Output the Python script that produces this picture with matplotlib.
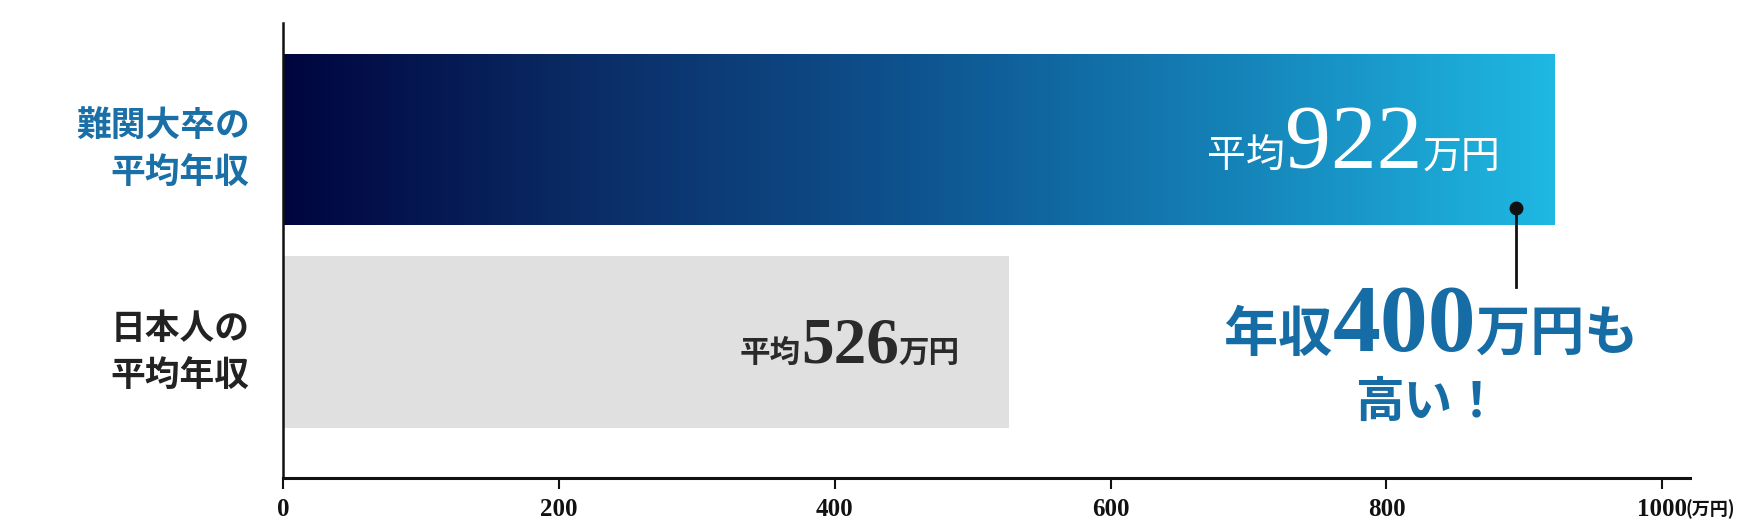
import matplotlib
matplotlib.use("Agg")
import matplotlib.pyplot as plt
import matplotlib.transforms as mtransforms
from matplotlib.colors import LinearSegmentedColormap
import numpy as np

# data
categories = ["日本人の\n平均年収", "難関大卒の\n平均年収"]
values = [526, 922]
label_colors = ["#222222", "#1a6fa6"]
xticks = [0, 200, 400, 600, 800, 1000]
diff_text = "400"
unit = "万円"

CJK = "Noto Sans CJK JP"
SERIF = "Liberation Serif"

fig = plt.figure(figsize=(17.54, 5.30), dpi=100)
ax = fig.add_axes([0.1613, 0.098, 0.8022, 0.8595])

bar_h = 0.845
ypos = np.arange(len(values))
bars = ax.barh(ypos, values, height=bar_h, color=["#e0e0e0", "none"], edgecolor="none", zorder=2)

# gradient fill for the top bar
grad = LinearSegmentedColormap.from_list("g", ["#00053f", "#0b2e68", "#0e5490", "#1583b8", "#1fb8e2"])
top = bars[1]
img = ax.imshow(np.linspace(0, 1, 256).reshape(1, -1), cmap=grad, aspect="auto",
                extent=[0, values[1], 1 - bar_h / 2, 1 + bar_h / 2], zorder=2)
img.set_clip_path(top)

ax.set_xlim(0, 1020)
ax.set_ylim(-0.672, 1.578)

for s in ["top", "right"]:
    ax.spines[s].set_visible(False)
ax.spines["left"].set_linewidth(1.8)
ax.spines["bottom"].set_linewidth(2.2)
ax.spines["left"].set_color("#111111")
ax.spines["bottom"].set_color("#111111")

ax.set_xticks(xticks)
ax.set_xticklabels([str(t) for t in xticks], fontfamily=SERIF, fontweight="bold",
                   fontsize=18, color="#111111")
ax.tick_params(axis="x", direction="out", length=8, width=1.5, pad=6, color="#111111")

ax.set_yticks(ypos)
ax.set_yticklabels(categories, fontfamily=CJK, fontweight="bold", fontsize=25,
                   multialignment="right", linespacing=1.47)
for lab, c in zip(ax.get_yticklabels(), label_colors):
    lab.set_color(c)
ax.tick_params(axis="y", length=0, pad=24)

ax.text(1000, 0, "(万円)", transform=mtransforms.offset_copy(ax.get_xaxis_transform(), fig=fig, x=23, y=-31, units="dots"),
        ha="left", va="center", fontfamily=CJK, fontweight="bold", fontsize=13, color="#111111")

renderer = fig.canvas.get_renderer()


def rich(x, y, parts, ha="right"):
    widths = []
    for s, kw in parts:
        t = fig.text(0, 0, s, **kw)
        widths.append(t.get_window_extent(renderer).width)
        t.remove()
    total = sum(widths)
    off = {"right": -total, "center": -total / 2, "left": 0}[ha]
    for (s, kw), w in zip(parts, widths):
        tr = mtransforms.offset_copy(ax.transData, fig=fig, x=off, y=0, units="dots")
        ax.text(x, y, s, transform=tr, ha="left", va="baseline", zorder=5, **kw)
        off += w


# value labels inside bars
rich(values[1] - 39.5, 0.859, [
    ("平均", dict(fontfamily=CJK, fontsize=28, color="white")),
    (str(values[1]), dict(fontfamily=SERIF, fontsize=66, color="white")),
    (unit, dict(fontfamily=CJK, fontsize=28, color="white")),
])
rich(values[0] - 35.4, -0.099, [
    ("平均", dict(fontfamily=CJK, fontsize=22, fontweight="bold", color="#2a2a2a")),
    (str(values[0]), dict(fontfamily=SERIF, fontsize=47, fontweight="bold", color="#2a2a2a")),
    (unit, dict(fontfamily=CJK, fontsize=22, fontweight="bold", color="#2a2a2a")),
])

# callout
blue = "#166ca4"
rich(832.6, -0.044, [
    ("年収", dict(fontfamily=CJK, fontsize=39, fontweight="bold", color=blue)),
    (diff_text, dict(fontfamily=SERIF, fontsize=69, fontweight="bold", color=blue)),
    (unit + "も", dict(fontfamily=CJK, fontsize=39, fontweight="bold", color=blue)),
], ha="center")
rich(830, -0.37, [
    ("高い！", dict(fontfamily=CJK, fontsize=35, fontweight="bold", color=blue)),
], ha="center")

ax.plot([894, 894], [0.272, 0.662], color="#111111", lw=2, zorder=4)
ax.plot([894], [0.662], "o", color="#111111", ms=9, zorder=4)

fig.savefig("out.png", dpi=100, facecolor="white")
